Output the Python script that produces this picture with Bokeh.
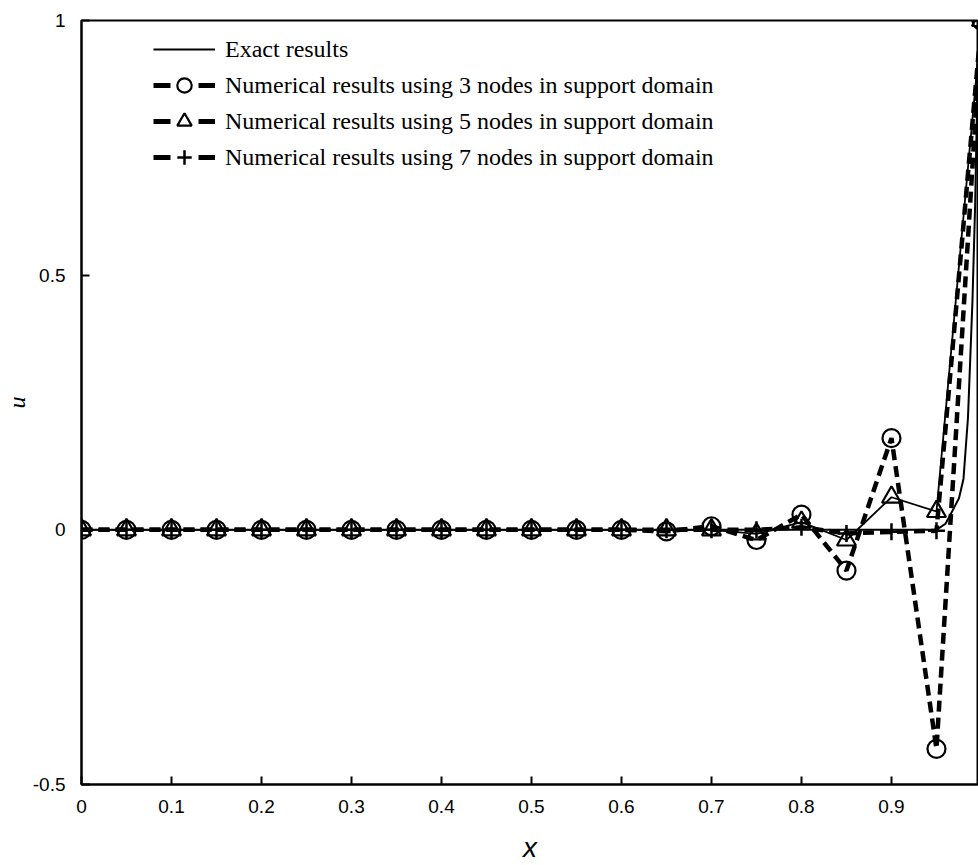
from bokeh.plotting import figure
from bokeh.models import (ColumnDataSource, Legend, LegendItem, Range1d,
                          FixedTicker, NumeralTickFormatter)
from bokeh.embed import file_html
from bokeh.resources import INLINE

# ---- data ----
x_nodes = [0.0, 0.05, 0.1, 0.15, 0.2, 0.25, 0.3, 0.35, 0.4, 0.45, 0.5,
           0.55, 0.6, 0.65, 0.7, 0.75, 0.8, 0.85, 0.9, 0.95, 1.0]
u_3nodes = [0.0, 0.0, 0.0, 0.0, 0.0, 0.0, 0.0, 0.0, 0.0, 0.0, 0.0,
            0.0, 0.0, -0.003, 0.007, -0.02, 0.03, -0.08, 0.18, -0.43, 1.0]
u_5nodes = [0.0, 0.0, 0.0, 0.0, 0.0, 0.0, 0.0, 0.0, 0.0, 0.0, 0.0,
            0.0, 0.0, 0.0, 0.0, -0.008, 0.015, -0.02, 0.064, 0.036, 1.0]
u_7nodes = [0.0, 0.0, 0.0, 0.0, 0.0, 0.0, 0.0, 0.0, 0.0, 0.0, 0.0,
            0.0, 0.0, 0.0, 0.0, 0.0, 0.005, -0.007, -0.004, -0.002, 1.0]
exact_x = [0.0, 0.95, 0.96, 0.965, 0.97, 0.975, 0.98, 0.985, 0.99, 0.993, 0.996, 1.0]
exact_u = [0.0, 0.0, 0.012, 0.028, 0.045, 0.062, 0.1, 0.22, 0.45, 0.64, 0.92, 1.0]

x_ticks = [0.0, 0.1, 0.2, 0.3, 0.4, 0.5, 0.6, 0.7, 0.8, 0.9, 1.0]
y_ticks = [-0.5, 0.0, 0.5, 1.0]

legend_labels = ["Exact results",
                 "Numerical results using 3 nodes in support domain",
                 "Numerical results using 5 nodes in support domain",
                 "Numerical results using 7 nodes in support domain"]

SANS = "Liberation Sans"
SERIF = "Liberation Serif"
NAN = float("nan")

p = figure(width=978, height=865,
           x_range=Range1d(0, 0.9967), y_range=Range1d(-0.5, 1.0),
           output_backend="svg", toolbar_location=None,
           min_border_left=81, min_border_right=0,
           min_border_top=20, min_border_bottom=81)

p.background_fill_color = "white"
p.border_fill_color = "white"
p.xgrid.visible = False
p.ygrid.visible = False
p.outline_line_color = "black"
p.outline_line_width = 2

for ax, ticks in ((p.xaxis[0], x_ticks), (p.yaxis[0], y_ticks)):
    ax.ticker = FixedTicker(ticks=ticks)
    ax.formatter = NumeralTickFormatter(format="0.[0]")
    ax.axis_line_width = 2
    ax.axis_line_color = "black"
    ax.major_tick_in = 8
    ax.major_tick_out = 0
    ax.major_tick_line_width = 2
    ax.minor_tick_line_color = None
    ax.major_label_text_font = SANS
    ax.major_label_text_font_size = "19px"
    ax.major_label_text_color = "black"
p.xaxis[0].major_label_standoff = 15
p.yaxis[0].major_label_standoff = 16

p.xaxis[0].axis_label = "x"
p.xaxis[0].axis_label_text_font = SANS
p.xaxis[0].axis_label_text_font_style = "italic"
p.xaxis[0].axis_label_text_font_size = "28px"
p.xaxis[0].axis_label_text_color = "black"
p.xaxis[0].axis_label_text_line_height = 0.7
p.xaxis[0].axis_label_standoff = 16

p.yaxis[0].axis_label = "u"
p.yaxis[0].axis_label_text_font = SERIF
p.yaxis[0].axis_label_text_font_style = "italic"
p.yaxis[0].axis_label_text_font_size = "24px"
p.yaxis[0].axis_label_text_color = "black"
p.yaxis[0].axis_label_standoff = 0

src_exact = ColumnDataSource(dict(x=exact_x, y=exact_u))
src_n = ColumnDataSource(dict(x=x_nodes, u3=u_3nodes, u5=u_5nodes, u7=u_7nodes))

r_exact = p.line("x", "y", source=src_exact, line_color="black", line_width=2)
r5_line = p.line("x", "u5", source=src_n, line_color="black", line_width=1.8)
r7_line = p.line("x", "u7", source=src_n, line_color="black", line_width=4.5,
                 line_dash="11 6")
r3_line = p.line("x", "u3", source=src_n, line_color="black", line_width=4.5,
                 line_dash="11 6")

r3_m = p.scatter("x", "u3", source=src_n, marker="circle", size=18,
                 fill_color=None, line_color="black", line_width=2.2)
r5_m = p.scatter("x", "u5", source=src_n, marker="triangle", size=19,
                 fill_color=None, line_color="black", line_width=2.2)
r7_m = p.scatter("x", "u7", source=src_n, marker="cross", size=17,
                 line_color="black", line_width=2.5)

# legend-only line styles (no visible data)
legend_src = ColumnDataSource(dict(x=[NAN], y=[NAN]))
lg_exact = p.line("x", "y", source=legend_src, line_color="black", line_width=2)
lg_dash = p.line("x", "y", source=legend_src, line_color="black", line_width=5,
                 line_dash="17 28")

legend = Legend(items=[
    LegendItem(label=legend_labels[0], renderers=[lg_exact]),
    LegendItem(label=legend_labels[1], renderers=[lg_dash, r3_m]),
    LegendItem(label=legend_labels[2], renderers=[lg_dash, r5_m]),
    LegendItem(label=legend_labels[3], renderers=[lg_dash, r7_m]),
], location=(72, 609))
legend.border_line_color = None
legend.background_fill_alpha = 0
legend.padding = 0
legend.margin = 0
legend.spacing = 0
legend.glyph_width = 62
legend.glyph_height = 36
legend.label_height = 36
legend.label_standoff = 10
legend.label_text_font = SERIF
legend.label_text_font_size = "24px"
legend.label_text_color = "black"
p.add_layout(legend)

open("out.html", "w").write(file_html(p, INLINE))
